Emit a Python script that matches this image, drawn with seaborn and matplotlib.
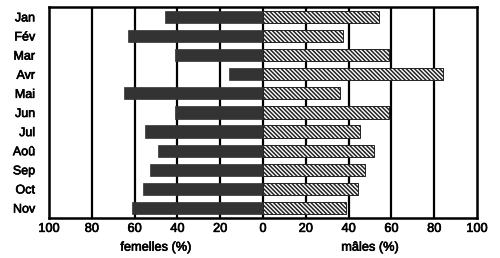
import matplotlib
matplotlib.use("Agg")
import matplotlib.pyplot as plt
import matplotlib.patheffects as pe
import seaborn as sns
import pandas as pd
import numpy as np

months = ["Jan", "Fév", "Mar", "Avr", "Mai", "Jun", "Jul", "Aoû", "Sep", "Oct", "Nov"]
femelles = [46, 63, 41, 16, 65, 41, 55, 49, 53, 56, 61]
males = [54, 37.5, 59, 84, 36, 59, 45.5, 52, 47.5, 44.5, 39]
xticks = [-100, -80, -60, -40, -20, 0, 20, 40, 60, 80, 100]
xticklabels = ["100", "80", "60", "40", "20", "0", "20", "40", "60", "80", "100"]

sns.set_theme(style="white")
plt.rcParams['font.family'] = ['Liberation Sans', 'DejaVu Sans']
plt.rcParams['hatch.linewidth'] = 1.1
plt.rcParams['hatch.color'] = "#222222"

fig = plt.figure(figsize=(5, 2.58), dpi=100)
ax = fig.add_axes([0.098, 0.155, 0.856, 0.818])

df = pd.DataFrame({"mois": months, "femelles": [-v for v in femelles], "males": males})

for xv in xticks[1:-1]:
    ax.axvline(xv, color="black", lw=1.6, zorder=0)

sns.barplot(data=df, x="femelles", y="mois", orient="h", color="#333333",
            width=0.64, ax=ax, saturation=1)
n_f = len(ax.patches)
sns.barplot(data=df, x="males", y="mois", orient="h", color="white",
            width=0.64, ax=ax, saturation=1)
for p in ax.patches[:n_f]:
    p.set_edgecolor("#333333")
    p.set_linewidth(0.5)
    p.set_zorder(3)
for p in ax.patches[n_f:]:
    p.set_facecolor("white")
    p.set_hatch("\\" * 8)
    p.set_edgecolor("#222222")
    p.set_linewidth(0.7)
    p.set_zorder(3)

thick = [pe.withStroke(linewidth=0.45, foreground="black")]

ax.set_xlim(-100, 100)
ax.set_ylim(len(months) - 0.48, -0.52)
ax.set_xticks(xticks)
ax.set_xticklabels(xticklabels, fontsize=9.2)
ax.tick_params(axis="y", labelsize=9, length=0, pad=10, labelcolor="black")
ax.tick_params(axis="x", length=0, pad=3.5, labelcolor="black")
for t in ax.get_xticklabels() + ax.get_yticklabels():
    t.set_path_effects(thick)
ax.set_xlabel("")
ax.set_ylabel("")
for s in ax.spines.values():
    s.set_visible(True)
    s.set_color("black")
    s.set_linewidth(1.8)
    s.set_zorder(5)

tr = matplotlib.transforms.blended_transform_factory(ax.transData, fig.transFigure)
ax.text(-50, 0.04, "femelles (%)", transform=tr, ha="center", va="center",
        fontsize=9.2, color="black", path_effects=thick)
ax.text(50, 0.04, "mâles (%)", transform=tr, ha="center", va="center",
        fontsize=9.2, color="black", path_effects=thick)

fig.savefig("out.png", dpi=100, facecolor="white")
